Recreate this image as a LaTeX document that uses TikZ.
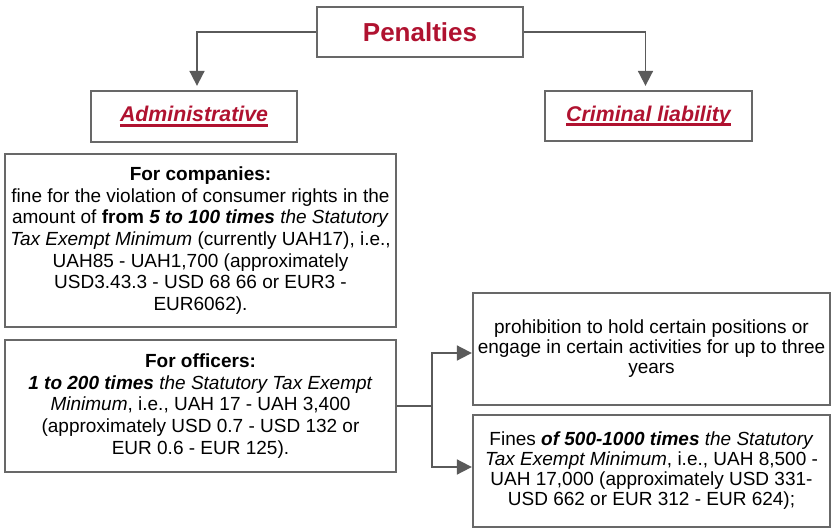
\documentclass[tikz,border=0pt]{standalone}
\usepackage{fontspec}
\setmainfont{Liberation Sans}
\usetikzlibrary{arrows.meta}
\definecolor{penred}{RGB}{176,18,48}
\definecolor{boxgray}{RGB}{104,104,104}
\definecolor{linegray}{RGB}{90,90,90}
% thick coloured underline for the branch headings
\newcommand{\thickul}[1]{\setbox0\hbox{#1}\rlap{\rule[-4.6pt]{\wd0}{2.6pt}}\box0}
\begin{document}
\begin{tikzpicture}[x=1pt,y=-1pt,
  box/.style={draw=boxgray,line width=2.3pt,fill=white,inner sep=0pt,align=center},
  bodytxt/.style={font=\fontsize{19}{21.7}\selectfont},
  righttxt/.style={font=\fontsize{19}{20}\selectfont},
  conn/.style={draw=linegray,line width=1.8pt},
  arr/.style={conn,-{Triangle[length=15pt,width=15pt]}},
]
\useasboundingbox (0,0) rectangle (831,528);

\node[box,minimum width=206pt,minimum height=50pt,text=penred,font=\fontsize{26}{30}\selectfont\bfseries]
  (pen) at (420,32) {Penalties};

\node[box,minimum width=206pt,minimum height=51pt,text=penred,font=\fontsize{21.3}{24}\selectfont\bfseries\itshape]
  (adm) at (194,116.5) {\thickul{Administrative}};
\node[box,minimum width=207pt,minimum height=50pt,text=penred,font=\fontsize{21.3}{24}\selectfont\bfseries\itshape]
  (crim) at (648.5,116) {\thickul{Criminal liability}};

\node[box,bodytxt,minimum width=391pt,minimum height=173pt] (comp) at (200.5,240.5) {%
  \textbf{For companies:}\\
  fine for the violation of consumer rights in the\\
  amount of \textbf{from \textit{5 to 100 times}} \textit{the Statutory}\\
  \textit{Tax Exempt Minimum} (currently UAH17), i.e.,\\
  UAH85 - UAH1,700 (approximately\\
  USD3.43.3 - USD 68 66 or EUR3 -\\
  EUR6062).};

\node[box,bodytxt,minimum width=391pt,minimum height=132pt] (off) at (200.5,406) {%
  \textbf{For officers:}\\
  \textbf{\textit{1 to 200 times}} \textit{the Statutory Tax Exempt}\\
  \textit{Minimum}, i.e., UAH 17 - UAH 3,400\\
  (approximately USD 0.7 - USD 132 or\\
  EUR 0.6 - EUR 125).};

\node[box,righttxt,minimum width=357pt,minimum height=112pt] (proh) at (651.5,349) {%
  prohibition to hold certain positions or\\
  engage in certain activities for up to three\\
  years};

\node[box,righttxt,minimum width=357pt,minimum height=112pt] (fines) at (651.5,471) {%
  Fines \textbf{\textit{of 500-1000 times}} \textit{the Statutory}\\
  \textit{Tax Exempt Minimum}, i.e., UAH 8,500 -\\
  UAH 17,000 (approximately USD 331-\\
  USD 662 or EUR 312 - EUR 624);};

% top-level branches
\draw[arr,shorten >=4pt] (pen.west) -| ([xshift=3pt]adm.north);
\draw[arr,shorten >=4pt] (pen.east) -| ([xshift=-3pt]crim.north);

% officers split into the two criminal sanctions
\coordinate (split) at ([xshift=35pt]off.east);
\draw[conn] (off.east) -- (split);
\draw[arr] (split) |- ([yshift=-4pt]proh.west);
\draw[arr] (split) |- ([yshift=4pt]fines.west);
\end{tikzpicture}
\end{document}
